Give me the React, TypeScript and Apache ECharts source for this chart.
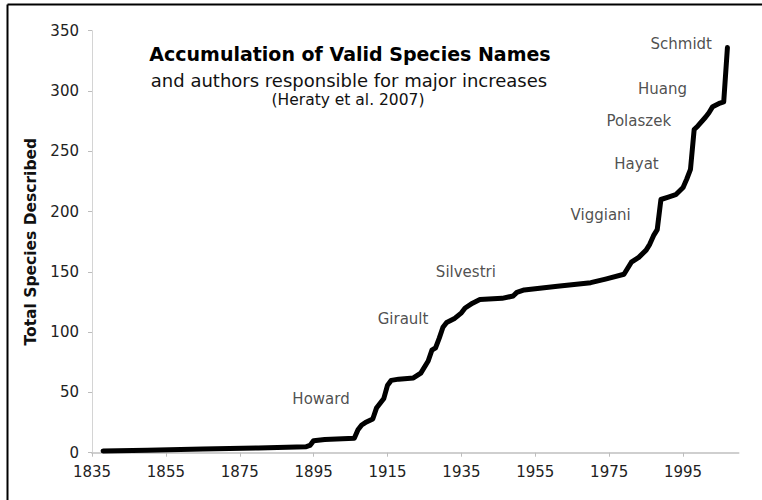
import React, { useEffect, useRef } from "react";
import * as echarts from "echarts";

// Cumulative valid species names (year, total)
const years = [1838, 1850, 1865, 1880, 1893, 1894, 1895, 1898, 1906, 1907, 1908, 1909, 1911, 1912, 1913, 1914, 1915, 1916, 1918, 1922, 1924, 1926, 1927, 1928, 1929, 1930, 1931, 1933, 1935, 1936, 1938, 1940, 1946, 1949, 1950, 1952, 1961, 1970, 1974, 1979, 1980, 1981, 1983, 1985, 1986, 1987, 1988, 1989, 1991, 1993, 1995, 1996, 1997, 1998, 1999, 2001, 2002, 2003, 2005, 2006, 2007];
const totals = [1.5, 2, 3, 4, 5, 6, 10, 11, 12, 19, 23, 25, 28, 37, 41, 45, 56, 60, 61, 62, 66, 76, 85, 87, 95, 104, 108, 111, 116, 120, 124, 127, 128, 130, 133, 135, 138, 141, 144, 148, 153, 158, 162, 168, 173, 180, 185, 210, 212, 214, 220, 227, 235, 268, 271, 278, 282, 287, 290, 291, 336];

// Author annotations (label anchor in data coordinates)
const authorNames = ["Howard", "Girault", "Silvestri", "Viggiani", "Hayat", "Polaszek", "Huang", "Schmidt"];
const authorYears = [1897, 1919.2, 1936.2, 1972.7, 1982.4, 1983, 1989.4, 1994.5];
const authorTotals = [44.6, 111, 150.2, 197.1, 239.6, 275.3, 301.8, 339.2];

const titleText = "Accumulation of Valid Species Names";
const subtitleText = "and authors responsible for major increases";
const citationText = "(Heraty et al. 2007)";
const yAxisTitle = "Total Species Described";

const FONT = "'DejaVu Sans', Verdana, sans-serif";

export default function App() {
  const ref = useRef<HTMLDivElement>(null);
  useEffect(() => {
    if (!ref.current) return;
    const chart = echarts.init(ref.current, null, { renderer: "svg" });
    chart.setOption({
      animation: false,
      backgroundColor: "#ffffff",
      textStyle: { fontFamily: FONT },
      grid: { left: 92, right: 23.5, top: 30.7, bottom: 47.3 },
      xAxis: {
        type: "value",
        min: 1835,
        max: 2010,
        interval: 20,
        splitLine: { show: false },
        axisLine: { show: true, lineStyle: { color: "#cfcfcf", width: 2 } },
        axisTick: { show: true, length: 4, lineStyle: { color: "#bdbdbd" } },
        axisLabel: {
          showMaxLabel: false,
          fontSize: 15,
          color: "#222",
          margin: 12,
          fontFamily: FONT,
          formatter: (v: number) => String(v),
        },
      },
      yAxis: {
        type: "value",
        min: 0,
        max: 350,
        interval: 50,
        name: yAxisTitle,
        nameLocation: "middle",
        nameGap: 47,
        nameTextStyle: { fontSize: 15.5, fontWeight: "bold", color: "#111", fontFamily: FONT },
        splitLine: { show: false },
        axisLine: { show: true, lineStyle: { color: "#d4d4d4", width: 1 } },
        axisTick: { show: true, length: 4, lineStyle: { color: "#bdbdbd" } },
        axisLabel: { fontSize: 15, color: "#222", margin: 13, fontFamily: FONT },
      },
      series: [
        {
          type: "line",
          data: years.map((y, i) => [y, totals[i]]),
          showSymbol: false,
          symbol: "none",
          lineStyle: { color: "#000", width: 5, join: "round", cap: "round" },
          z: 3,
          silent: true,
        },
        {
          type: "scatter",
          data: authorYears.map((y, i) => [y, authorTotals[i]]),
          symbolSize: 0,
          silent: true,
          label: {
            show: true,
            position: "inside",
            fontSize: 15,
            color: "#222",
            fontFamily: FONT,
            formatter: (p: any) => authorNames[p.dataIndex],
          },
          z: 4,
        },
      ],
      graphic: [
        {
          type: "line",
          shape: { x1: 7.5, y1: 4.5, x2: 762, y2: 4.5 },
          style: { stroke: "#000", lineWidth: 2 },
          silent: true,
        },
        {
          type: "line",
          shape: { x1: 7.5, y1: 4.5, x2: 7.5, y2: 500 },
          style: { stroke: "#000", lineWidth: 2 },
          silent: true,
        },
        {
          type: "text",
          x: 350,
          y: 54,
          style: { text: titleText, fontSize: 19, fontWeight: "bold", fill: "#000", align: "center", verticalAlign: "middle", fontFamily: FONT },
        },
        {
          type: "text",
          x: 349,
          y: 80.5,
          style: { text: subtitleText, fontSize: 18, fill: "#111", align: "center", verticalAlign: "middle", fontFamily: FONT },
        },
        {
          type: "text",
          x: 348,
          y: 99.5,
          style: { text: citationText, fontSize: 15.5, fill: "#111", align: "center", verticalAlign: "middle", fontFamily: FONT },
        },
      ],
    });
    return () => chart.dispose();
  }, []);
  return (
    <div
      ref={ref}
      style={{ position: "fixed", left: 0, top: 0, width: 762, height: 500 }}
    />
  );
}
